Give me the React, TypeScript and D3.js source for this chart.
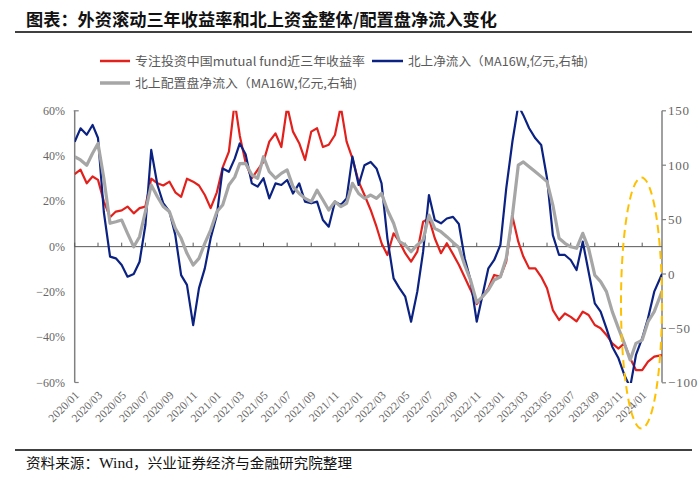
import React from 'react';
import * as d3 from 'd3';

// semi-monthly observation dates
const dates = [
  '2020-01-01','2020-01-16','2020-02-01','2020-02-16','2020-03-01','2020-03-16','2020-04-01','2020-04-16','2020-05-01','2020-05-16',
  '2020-06-01','2020-06-16','2020-07-01','2020-07-16','2020-08-01','2020-08-16','2020-09-01','2020-09-16','2020-10-01','2020-10-16',
  '2020-11-01','2020-11-16','2020-12-01','2020-12-16','2021-01-01','2021-01-16','2021-02-01','2021-02-16','2021-03-01','2021-03-16',
  '2021-04-01','2021-04-16','2021-05-01','2021-05-16','2021-06-01','2021-06-16','2021-07-01','2021-07-16','2021-08-01','2021-08-16',
  '2021-09-01','2021-09-16','2021-10-01','2021-10-16','2021-11-01','2021-11-16','2021-12-01','2021-12-16','2022-01-01','2022-01-16',
  '2022-02-01','2022-02-16','2022-03-01','2022-03-16','2022-04-01','2022-04-16','2022-05-01','2022-05-16','2022-06-01','2022-06-16',
  '2022-07-01','2022-07-16','2022-08-01','2022-08-16','2022-09-01','2022-09-16','2022-10-01','2022-10-16','2022-11-01','2022-11-16',
  '2022-12-01','2022-12-16','2023-01-01','2023-01-16','2023-02-01','2023-02-16','2023-03-01','2023-03-16','2023-04-01','2023-04-16',
  '2023-05-01','2023-05-16','2023-06-01','2023-06-16','2023-07-01','2023-07-16','2023-08-01','2023-08-16','2023-09-01','2023-09-16',
  '2023-10-01','2023-10-16','2023-11-01','2023-11-16','2023-12-01','2023-12-16','2024-01-01','2024-01-16','2024-02-01','2024-02-21',
];

// 专注投资中国mutual fund近三年收益率 (%, left axis)
const mutualFundReturn = [
  32, 34, 28, 31, 29.5, 20, 13, 15.5, 16, 17.7,
  14.7, 17, 17.7, 30, 28, 27, 28.7, 24, 22, 30,
  28.7, 27, 22.8, 17, 24, 35, 42, 64, 49, 37,
  30.2, 33.9, 37.5, 46.4, 50, 44, 62, 50.8, 45.7, 38.3,
  50.8, 52.3, 44, 45, 49.3, 62, 46.4, 39, 28.7, 22.8,
  16.2, 8.8, 1.5, -3.7, 5.9, 2.2, -2.9, -6.6, -2.2, 11,
  12.5, 3.7, -2.9, 1.5, -3.3, -8, -13.5, -19, -25.4, -22,
  -18.4, -12.5, -13.3, -6.6, 13.3, 2.2, -4.4, -9.6, -9.6, -13.3,
  -18.4, -28, -32.4, -29.5, -31, -33, -28.7, -30.2, -34.6, -36,
  -39, -42.7, -45, -42.7, -49.3, -54.5, -54.5, -50.8, -48.6, -47.9,
];

// 北上净流入 (MA16W, 亿元, right axis)
const northboundNet = [
  121.6, 133.9, 128, 137, 125, 57, 16, 14.4, 8.3, -2.5,
  0, 11.3, 45, 114, 81.8, 65, 57.3, 35.8, -1, -10,
  -47, -13, 5.2, 32.8, 54.2, 97, 94, 106, 120, 110,
  83.3, 80.3, 88, 69.5, 83.3, 81.8, 86.4, 74, 83.3, 66.5,
  65, 66.5, 49.6, 43.5, 66.5, 63.4, 69.5, 107.8, 81.8, 100,
  103, 97, 83.3, 32.8, -4, -13, -20.8, -43.8, -16.2, 20.5,
  72.6, 49.6, 46.6, 51, 52.5, 46, 14.5, -5.5, -43.8, -19.3,
  5.2, 12.9, 26.7, 78.7, 122, 155, 146, 134, 124.7, 118.6,
  88, 35.8, 17.5, 17.5, 12.9, 3.7, 29.7, 2, -27, -34.6,
  -50, -66.8, -77.5, -92.8, -104, -74.4, -59, -40.7, -16.2, 0,
];

// 北上配置盘净流入 (MA16W, 亿元, right axis)
const northboundAllocation = [
  107.8, 104.8, 100, 111, 120, 88, 46.6, 48, 49.6, 37.4,
  25, 34.3, 57.3, 81.8, 71, 62, 57.3, 42, 32.8, 19,
  8.3, 14.4, 28.2, 40.4, 57.3, 63.4, 81.8, 89, 101.5, 101.7,
  91, 88, 107.8, 94, 88, 92.5, 95.6, 80.3, 74, 69.5,
  66.5, 77, 68, 58.8, 66.5, 61.9, 65, 83.3, 74, 69.5,
  72.6, 69.5, 74, 58.8, 46.6, 29.7, 26.7, 20.5, 26.7, 31.3,
  54.2, 42, 38.9, 34.3, 29, 24.3, 8.3, -5.5, -26, -20.8,
  -14.7, -5.5, -2.5, 14.4, 54.2, 100, 103, 98.6, 94, 89.5,
  84.9, 63.4, 32.8, 28.2, 25, 23.6, 37.4, 23.6, -1, -7,
  -16.2, -34.6, -50, -63.7, -79, -63.7, -60.7, -43.8, -34.6, -16,
];

const leftTicks = [-60, -40, -20, 0, 20, 40, 60];
const rightTicks = [-100, -50, 0, 50, 100, 150];

const legendItems = [
  { label: '专注投资中国mutual fund近三年收益率', color: '#E3211C', width: 2.5 },
  { label: '北上净流入（MA16W,亿元,右轴)', color: '#0B2283', width: 2.5 },
  { label: '北上配置盘净流入（MA16W,亿元,右轴)', color: '#A6A6A6', width: 3.5 },
];

const CJK = '"Noto Sans CJK SC", sans-serif';
const SERIF = '"Liberation Serif", "DejaVu Serif", serif';

export default function App() {
  React.useEffect(() => { document.body.style.margin = '0'; }, []);
  const parse = d3.utcParse('%Y-%m-%d');
  const xs = dates.map((d) => parse(d) as Date);
  const left = 74.7, right = 662, top = 110.8, bottom = 382.5;
  const x = d3.scaleUtc().domain([parse('2020-01-01') as Date, parse('2024-02-21') as Date]).range([left, right]);
  const yL = d3.scaleLinear().domain([-60, 60]).range([bottom, top]);
  const yR = d3.scaleLinear().domain([-100, 150]).range([bottom + 0.3, top]);
  const xTicks = d3.utcMonth.every(2)!.range(parse('2020-01-01') as Date, parse('2024-01-02') as Date);
  const fmt = d3.utcFormat('%Y/%m');

  const lineL = d3.line<number>().x((_, i) => x(xs[i])).y((d) => yL(d));
  const lineR = d3.line<number>().x((_, i) => x(xs[i])).y((d) => yR(d));
  const zeroY = yL(0);

  return (
    <svg width={700} height={486} style={{ position: 'absolute', left: 0, top: 0, background: '#fff' }}>
      <defs>
        <clipPath id="plot">
          <rect x={left} y={top} width={right - left} height={bottom - top + 0.5} />
        </clipPath>
      </defs>
      <rect x={0} y={0} width={700} height={486} fill="#fff" />
      {/* title */}
      <text x={26} y={26} fontFamily={CJK} fontWeight={700} fontSize={17} fill="#111" textLength={471} lengthAdjust="spacingAndGlyphs">
        图表：外资滚动三年收益率和北上资金整体/配置盘净流入变化
      </text>
      <line x1={15} x2={692} y1={32} y2={32} stroke="#000" strokeWidth={1.5} />

      {/* legend */}
      <line x1={100} x2={130} y1={61} y2={61} stroke={legendItems[0].color} strokeWidth={legendItems[0].width} />
      <text x={135} y={65.5} fontFamily={CJK} fontSize={12} fill="#595959" textLength={230} lengthAdjust="spacingAndGlyphs">{legendItems[0].label}</text>
      <line x1={372} x2={403} y1={61} y2={61} stroke={legendItems[1].color} strokeWidth={legendItems[1].width} />
      <text x={408} y={65.5} fontFamily={CJK} fontSize={12} fill="#595959" textLength={180} lengthAdjust="spacingAndGlyphs">{legendItems[1].label}</text>
      <line x1={100} x2={130} y1={83} y2={83} stroke={legendItems[2].color} strokeWidth={legendItems[2].width} />
      <text x={135} y={87.5} fontFamily={CJK} fontSize={12} fill="#595959" textLength={222} lengthAdjust="spacingAndGlyphs">{legendItems[2].label}</text>

      {/* left axis */}
      <line x1={left} x2={left} y1={top} y2={bottom} stroke="#808080" strokeWidth={1.5} />
      <line x1={left - 1} x2={left + 4} y1={top} y2={top} stroke="#808080" strokeWidth={1.2} />
      <line x1={left} x2={left + 4} y1={bottom} y2={bottom} stroke="#808080" strokeWidth={1.2} />
      {leftTicks.map((t) => (
        <text key={t} x={65} y={yL(t) + 4} textAnchor="end" fontFamily={SERIF} fontSize={12} fill="#666">
          {t < 0 ? `−${-t}%` : `${t}%`}
        </text>
      ))}

      {/* right axis */}
      <line x1={right} x2={right} y1={top} y2={bottom} stroke="#808080" strokeWidth={1.5} />
      {rightTicks.map((t) => (
        <g key={t}>
          <line x1={right} x2={right + 4} y1={yR(t)} y2={yR(t)} stroke="#808080" strokeWidth={1.2} />
          <text x={668} y={yR(t) + 4.5} fontFamily={SERIF} fontSize={13} letterSpacing={0.8} fill="#666">
            {t < 0 ? `−${-t}` : `${t}`}
          </text>
        </g>
      ))}

      {/* zero baseline with ticks */}
      <line x1={left} x2={right} y1={zeroY} y2={zeroY} stroke="#595959" strokeWidth={1} />
      {xTicks.map((d) => (
        <line key={+d} x1={x(d)} x2={x(d)} y1={zeroY} y2={zeroY - 4} stroke="#595959" strokeWidth={1} />
      ))}
      {xTicks.map((d) => (
        <text key={'l' + +d} transform={`translate(${x(d) + 5},${396}) rotate(-45)`} textAnchor="end" fontFamily={SERIF} fontSize={11.5} fill="#666">
          {fmt(d)}
        </text>
      ))}

      {/* series */}
      <g clipPath="url(#plot)" fill="none" strokeLinejoin="round">
        <path d={lineL(mutualFundReturn) || ''} stroke={legendItems[0].color} strokeWidth={2.2} />
        <path d={lineR(northboundNet) || ''} stroke={legendItems[1].color} strokeWidth={2.2} />
        <path d={lineR(northboundAllocation) || ''} stroke={legendItems[2].color} strokeWidth={3.2} />
      </g>

      {/* highlight ellipse */}
      <ellipse cx={641.5} cy={303} rx={20.5} ry={125.5} fill="none" stroke="#FFC000" strokeWidth={2} strokeDasharray="8 5" />

      {/* source */}
      <line x1={15} x2={692} y1={450} y2={450} stroke="#000" strokeWidth={1.5} />
      <text x={26} y={468} fontFamily={CJK} fontSize={14} fill="#111" textLength={326} lengthAdjust="spacingAndGlyphs">
        资料来源：<tspan fontFamily={SERIF} fontSize={15}>Wind</tspan>，兴业证券经济与金融研究院整理
      </text>
    </svg>
  );
}
